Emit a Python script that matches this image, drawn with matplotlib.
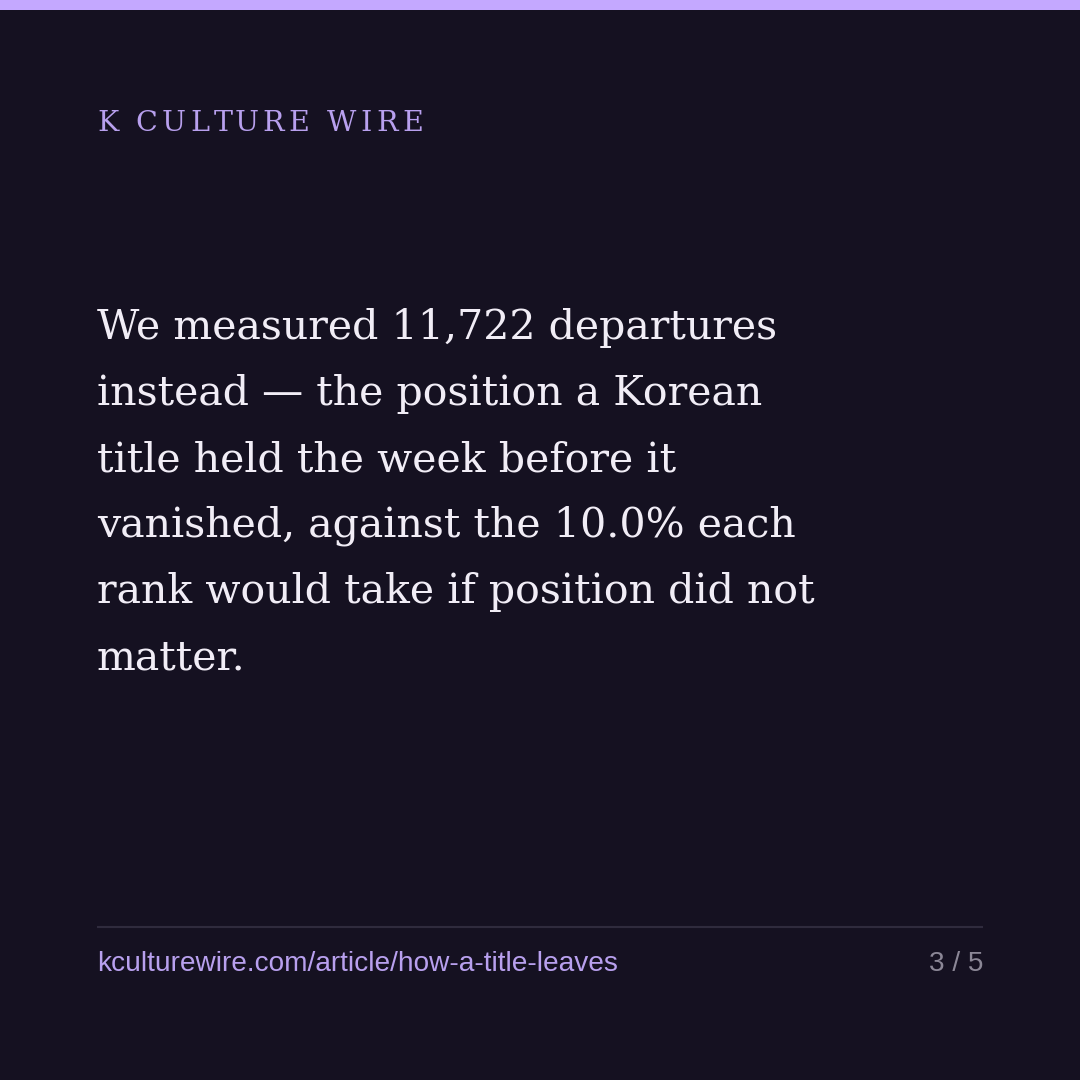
import matplotlib
matplotlib.use("Agg")
import matplotlib.pyplot as plt

# ---- content ----
brand = "K CULTURE WIRE"
body_lines = [
    "We measured 11,722 departures",
    "instead \u2014 the position a Korean",
    "title held the week before it",
    "vanished, against the 10.0% each",
    "rank would take if position did not",
    "matter.",
]
footer_url = "kculturewire.com/article/how-a-title-leaves"
page_label = "3 / 5"

# ---- style ----
BG = "#151121"
ACCENT = "#c4a8ff"
BRAND_C = "#b8a0ee"
BODY_C = "#f1edf6"
RULE_C = "#2f2b3d"
PAGE_C = "#8b8796"
SERIF = ["DejaVu Serif"]
SANS = ["Liberation Sans", "DejaVu Sans"]

W = H = 1080
fig = plt.figure(figsize=(10.8, 10.8), dpi=100, facecolor=BG)
ax = fig.add_axes([0, 0, 1, 1])
ax.set_xlim(0, W)
ax.set_ylim(H, 0)
ax.axis("off")
ax.set_facecolor(BG)
fig.canvas.draw()
renderer = fig.canvas.get_renderer()


def text_width(s, size, family, **kw):
    t = ax.text(0, 0, s, fontsize=size, family=family, **kw)
    w = t.get_window_extent(renderer).width
    t.remove()
    return w


def fit_size(s, target_px, family, base=20, **kw):
    return base * target_px / text_width(s, base, family, **kw)


# top accent bar
ax.add_patch(plt.Rectangle((0, 0), W, 10, color=ACCENT, lw=0))

# brand with letter spacing
bsize = 20.5
target_w = 326
sent = "|"
sw = text_width(sent, bsize, SERIF)
prefix = [text_width(brand[:i] + sent, bsize, SERIF) - sw for i in range(len(brand) + 1)]
natural = prefix[-1]
spacing = (target_w - natural) / (len(brand) - 1)
for i, ch in enumerate(brand):
    ax.text(97 + prefix[i] + i * spacing, 131, ch, fontsize=bsize, family=SERIF,
            color=BRAND_C, va="baseline", ha="left")

# body text: fit size to the combined width of the first five lines
ref_total = 674 + 672 + 574 + 697 + 729
mine_total = sum(text_width(l, 20, SERIF) for l in body_lines[:5])
body_size = 20 * ref_total / mine_total
y0 = 339
lh = 66
for i, line in enumerate(body_lines):
    ax.text(97, y0 + i * lh, line, fontsize=body_size, family=SERIF, color=BODY_C,
            va="baseline", ha="left")

# rule
ax.plot([97, 983], [927, 927], color=RULE_C, lw=1.5, solid_capstyle="butt")

# footer
fsize = fit_size(footer_url, 519, SANS)
ax.text(97, 971, footer_url, fontsize=fsize, family=SANS, color=BRAND_C,
        va="baseline", ha="left")
ax.text(983, 971, page_label, fontsize=fsize, family=SANS, color=PAGE_C,
        va="baseline", ha="right")

fig.savefig("out.png", dpi=100, facecolor=BG)
